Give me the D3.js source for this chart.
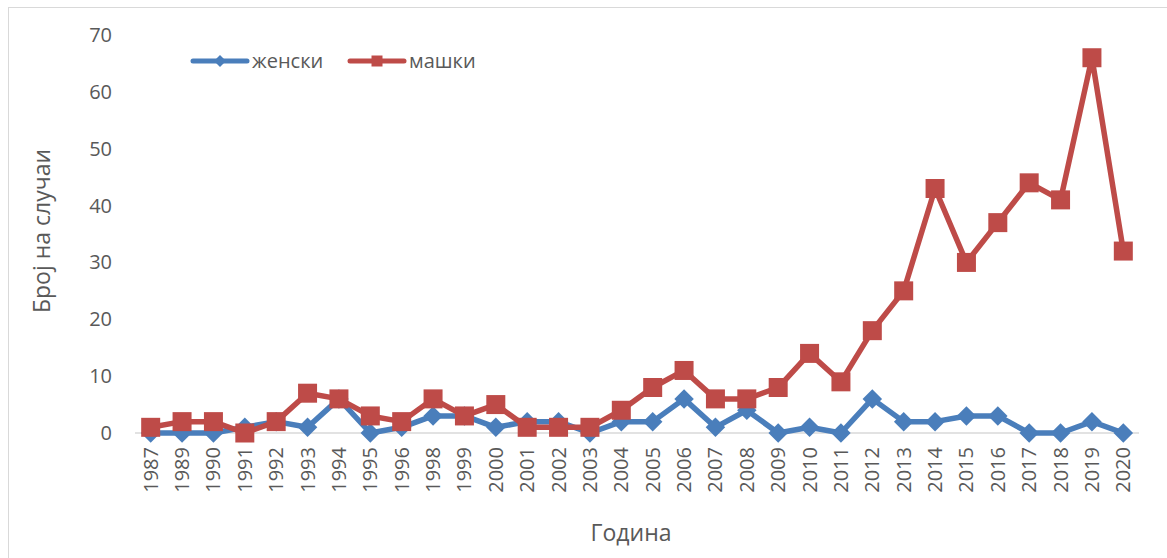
<!DOCTYPE html>
<html>
<head>
<meta charset="utf-8">
<script src="https://cdn.jsdelivr.net/npm/d3@7"></script>
<style>
  body { margin: 0; background: #fff; }
  text { font-family: "Open Sans", "Noto Sans", sans-serif; fill: #595959; }
</style>
</head>
<body>
<script>
const years = ["1987", "1989", "1990", "1991", "1992", "1993", "1994", "1995", "1996", "1998",
  "1999", "2000", "2001", "2002", "2003", "2004", "2005", "2006", "2007", "2008",
  "2009", "2010", "2011", "2012", "2013", "2014", "2015", "2016", "2017", "2018", "2019", "2020"];
const female = [0, 0, 0, 1, 2, 1, 6, 0, 1, 3, 3, 1, 2, 2, 0, 2, 2, 6, 1, 4, 0, 1, 0, 6, 2, 2, 3, 3, 0, 0, 2, 0];
const male = [1, 2, 2, 0, 2, 7, 6, 3, 2, 6, 3, 5, 1, 1, 1, 4, 8, 11, 6, 6, 8, 14, 9, 18, 25, 43, 30, 37, 44, 41, 66, 32];
const yTicks = [0, 10, 20, 30, 40, 50, 60, 70];

const width = 1167;
const height = 558;

const svg = d3.select("body")
  .append("svg")
  .attr("width", width)
  .attr("height", height);

// chart border
svg.append("rect")
  .attr("x", 8.5)
  .attr("y", 7.5)
  .attr("width", 1175)
  .attr("height", 570)
  .attr("fill", "none")
  .attr("stroke", "#d9d9d9");

const xScale = d3.scaleBand()
  .domain(years)
  .range([135, 1139]);

const yScale = d3.scaleLinear()
  .domain([0, 70])
  .range([433, 35]);

const cx = (i) => xScale(years[i]) + xScale.bandwidth() / 2;

// y tick labels
svg.append("g")
  .selectAll("text")
  .data(yTicks)
  .enter()
  .append("text")
  .attr("x", 112)
  .attr("y", (d) => yScale(d))
  .attr("dy", "0.35em")
  .style("text-anchor", "end")
  .style("font-size", "20px")
  .text((d) => d);

// x axis line
svg.append("line")
  .attr("x1", 135)
  .attr("x2", 1139)
  .attr("y1", yScale(0))
  .attr("y2", yScale(0))
  .attr("stroke", "#d9d9d9")
  .attr("stroke-width", 1.3);

// x tick labels
svg.append("g")
  .selectAll("text")
  .data(years)
  .enter()
  .append("text")
  .attr("transform", (d) => `translate(${xScale(d) + xScale.bandwidth() / 2}, 447) rotate(-90)`)
  .attr("dy", "0.35em")
  .style("text-anchor", "end")
  .style("font-size", "20px")
  .text((d) => d);

// axis titles
svg.append("text")
  .attr("transform", "translate(42, 231) rotate(-90)")
  .attr("dy", "0.35em")
  .style("text-anchor", "middle")
  .style("font-size", "23px")
  .text("Број на случаи");

svg.append("text")
  .attr("x", 631)
  .attr("y", 533)
  .attr("dy", "0.35em")
  .style("text-anchor", "middle")
  .style("font-size", "23px")
  .text("Година");

const series = [
  { name: "женски", values: female, color: "#4a7ebb", rot: 45, size: 190, legendSize: 72 },
  { name: "машки", values: male, color: "#be4b48", rot: 0, size: 361, legendSize: 121 }
];

const line = d3.line()
  .x((d, i) => cx(i))
  .y((d) => yScale(d));

series.forEach((s) => {
  svg.append("path")
    .datum(s.values)
    .attr("d", line)
    .attr("fill", "none")
    .attr("stroke", s.color)
    .attr("stroke-width", 5.5)
    .attr("stroke-linejoin", "round");

  svg.append("g")
    .selectAll("path")
    .data(s.values)
    .enter()
    .append("path")
    .attr("transform", (d, i) => `translate(${cx(i)}, ${yScale(d)}) rotate(${s.rot})`)
    .attr("d", d3.symbol().type(d3.symbolSquare).size(s.size))
    .attr("fill", s.color);
});

// legend
const legend = svg.append("g")
  .selectAll("g")
  .data(series)
  .enter()
  .append("g")
  .attr("transform", (d, i) => `translate(${193 + i * 157}, 61)`);

legend.append("line")
  .attr("x1", 0)
  .attr("x2", 54)
  .attr("stroke", (d) => d.color)
  .attr("stroke-width", 5)
  .attr("stroke-linecap", "round");

legend.append("path")
  .attr("transform", (d) => `translate(27, 0) rotate(${d.rot})`)
  .attr("d", (d) => d3.symbol().type(d3.symbolSquare).size(d.legendSize)())
  .attr("fill", (d) => d.color);

legend.append("text")
  .attr("x", 59)
  .attr("dy", "0.35em")
  .style("font-size", "20px")
  .text((d) => d.name);
</script>
</body>
</html>
